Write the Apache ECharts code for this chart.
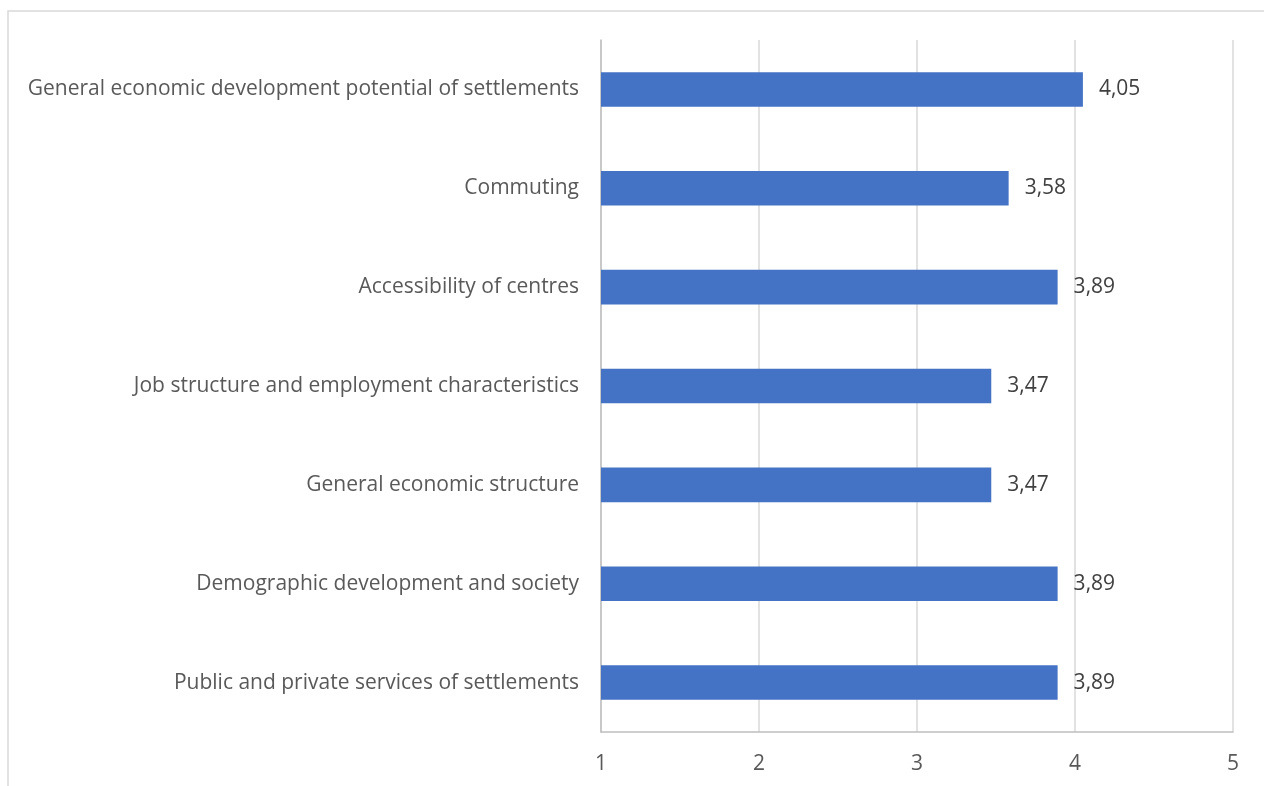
<!DOCTYPE html>
<html>
<head>
<meta charset="utf-8">
<script src="https://cdn.jsdelivr.net/npm/echarts@6/dist/echarts.min.js"></script>
<style>
  html, body { margin: 0; padding: 0; background: #fff; }
  #chart { width: 1264px; height: 786px; }
</style>
</head>
<body>
<div id="chart"></div>
<script>
// Factor categories (top to bottom as displayed)
const categories = [
  'General economic development potential of settlements',
  'Commuting',
  'Accessibility of centres',
  'Job structure and employment characteristics',
  'General economic structure',
  'Demographic development and society',
  'Public and private services of settlements'
];
// Average scores per factor
const scores = [4.05, 3.58, 3.89, 3.47, 3.47, 3.89, 3.89];
// Value axis range and step
const axisMin = 1;
const axisMax = 5;
const axisStep = 1;

const FONT = 'Open Sans';

const chart = echarts.init(document.getElementById('chart'), null, { renderer: 'canvas' });
chart.setOption({
  backgroundColor: '#ffffff',
  animation: false,
  graphic: [{
    type: 'rect',
    shape: { x: 8, y: 11, width: 1300, height: 820 },
    style: { fill: 'none', stroke: '#d9d9d9', lineWidth: 1.5 },
    silent: true
  }],
  grid: { left: 601, right: 31, top: 40, bottom: 54, containLabel: false },
  xAxis: {
    type: 'value',
    min: axisMin,
    max: axisMax,
    interval: axisStep,
    axisLine: { show: true, lineStyle: { color: '#bfbfbf', width: 1.5 } },
    axisTick: { show: false },
    splitLine: { show: true, lineStyle: { color: '#d9d9d9', width: 1.5 } },
    axisLabel: { color: '#595959', fontFamily: FONT, fontSize: 21, margin: 22 }
  },
  yAxis: {
    type: 'category',
    data: categories.slice().reverse(),
    axisLine: { show: true, lineStyle: { color: '#bfbfbf', width: 1.5 } },
    axisTick: { show: false },
    axisLabel: { color: '#595959', fontFamily: FONT, fontSize: 21, margin: 22, padding: [3, 0, 0, 0] }
  },
  series: [{
    type: 'bar',
    data: scores.slice().reverse(),
    barWidth: '35%',
    itemStyle: { color: '#4472c4' },
    label: {
      show: true,
      position: 'right',
      distance: 16,
      color: '#404040',
      fontFamily: FONT,
      fontSize: 21,
      padding: [3, 0, 0, 0],
      formatter: p => p.value.toFixed(2).replace('.', ',')
    }
  }]
});
</script>
</body>
</html>
